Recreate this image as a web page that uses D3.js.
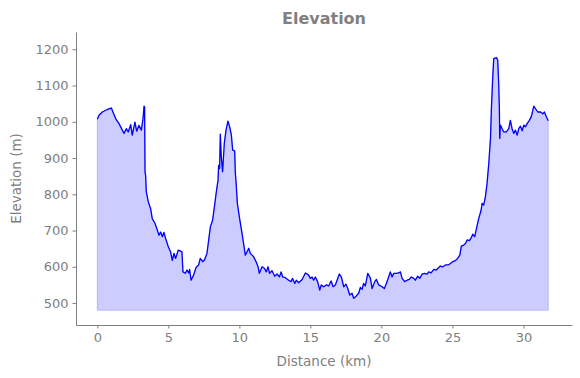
<!DOCTYPE html>
<html lang="en">
<head>
    <meta charset="UTF-8">
    <script src="https://d3js.org/d3.v7.min.js"></script>
    <title>Elevation</title>
    <style>
        body { margin: 0; background: #fff; }
        text { font-family: "DejaVu Sans", sans-serif; fill: #808080; }
    </style>
</head>
<body>
    <div id="chart"></div>

    <script>
      // profile, km / metres
      var distKm = [0,0.12,0.35,0.7,0.99,1.1,1.29,1.53,1.76,1.88,2.04,2.18,2.35,2.46,2.65,2.77,2.93,3.1,3.22,3.29,3.33,3.36,3.4,3.45,3.59,3.75,3.87,4.06,4.23,4.34,4.46,4.58,4.69,4.81,5.0,5.16,5.28,5.4,5.51,5.7,5.87,
        5.96,6.03,6.2,6.31,6.43,6.5,6.6,6.78,6.95,7.13,7.25,7.42,7.56,7.72,7.84,7.96,8.12,8.26,8.38,8.5,8.54,8.61,8.66,8.73,8.82,8.94,9.06,9.2,9.32,9.44,9.53,9.67,9.72,9.77,9.86,10.02,10.19,10.3,10.42,10.54,10.66,10.77,11.0,11.18,11.32,11.41,11.6,11.76,
        11.9,12.02,12.13,12.3,12.49,12.65,12.82,12.94,13.05,13.24,13.47,13.64,13.75,13.9,14.01,14.18,14.42,14.65,14.77,14.88,15.0,15.12,15.23,15.35,15.51,15.66,15.77,15.94,16.13,16.29,16.46,16.6,16.76,16.88,17.04,17.18,17.35,17.51,17.63,17.77,17.93,18.05,18.22,18.4,18.52,18.64,18.75,18.87,19.04,19.23,19.35,19.53,
        19.65,19.81,20.05,20.21,20.35,20.51,20.63,20.75,20.87,21.04,21.22,21.34,21.46,21.64,21.81,21.97,22.11,22.28,22.39,22.56,22.7,22.87,23.05,23.22,23.33,23.5,23.69,23.85,24.04,24.15,24.32,24.51,24.7,24.86,25.02,25.21,25.37,25.52,25.63,25.8,25.92,26.04,26.2,26.34,26.43,26.57,26.67,
        26.85,27.02,27.09,27.2,27.32,27.44,27.56,27.68,27.75,27.84,27.91,28.1,28.19,28.26,28.31,28.33,28.38,28.5,28.61,28.8,28.97,29.08,29.2,29.32,29.44,29.56,29.67,29.79,29.91,30.02,30.14,30.26,30.42,30.56,30.73,30.85,31.01,31.2,31.36,31.48,31.62,31.75];
      var elevM = [1007,1018,1027,1034,1038,1027,1009,995,977,968,981,972,992,963,999,974,990,977,1009,1043,1041,862,853,807,779,761,733,720,701,687,696,683,695,678,655,641,618,637,623,646,643,
        641,586,582,591,583,593,563,577,598,605,623,614,620,637,674,710,729,770,807,839,880,871,966,903,862,940,977,1002,986,963,922,920,858,834,775,733,692,664,632,641,651,637,628,614,600,582,600,596,
        586,600,582,589,574,580,572,586,572,570,563,559,568,554,563,556,565,583,580,577,568,572,563,572,559,536,550,545,550,547,561,545,550,563,580,572,545,552,540,522,527,513,519,527,543,538,554,547,582,568,540,559,
        565,550,545,540,554,572,586,572,582,582,583,586,568,559,563,565,572,568,563,574,568,580,582,580,586,583,593,591,598,602,600,605,605,609,614,617,623,632,657,660,664,674,672,681,690,683,701,
        733,756,775,770,793,830,885,954,1041,1124,1174,1177,1170,1105,1032,954,991,981,972,972,981,1004,981,968,977,963,981,988,975,991,986,995,1004,1015,1043,1036,1027,1027,1022,1027,1013,1003];
      var baseElev = 480;
      var xTicks = [0,5,10,15,20,25,30];
      var yTicks = [500,600,700,800,900,1000,1100,1200];

      var W = 580, H = 378;
      var mLeft = 76, mRight = 572, mTop = 32, mBottom = 325;

      var pts = distKm.map(function(d,i){ return {x:d, y:elevM[i]}; });

      var svg = d3.select("#chart").append("svg")
          .attr("width", W).attr("height", H);

      var x = d3.scaleLinear().domain([-1.5, 33.42]).range([mLeft, mRight]);
      var y = d3.scaleLinear().domain([439.4, 1247.7]).range([mBottom, mTop]);

      var area = d3.area()
          .x(d => x(d.x))
          .y0(y(baseElev))
          .y1(d => y(d.y));

      var line = d3.line()
          .x(d => x(d.x))
          .y(d => y(d.y));

      svg.append("path").datum(pts)
          .attr("d", area)
          .attr("fill", "rgba(0,0,255,0.2)")
          .attr("stroke", "rgba(0,0,255,0.2)")
          .attr("stroke-width", 1);

      svg.append("path").datum(pts)
          .attr("d", line)
          .attr("fill", "none")
          .attr("stroke", "#0000ff")
          .attr("stroke-width", 1.3)
          .attr("stroke-linejoin", "round");

      var xAxis = svg.append("g")
          .attr("transform", "translate(0," + mBottom + ")")
          .call(d3.axisBottom(x).tickValues(xTicks).tickSize(3.5).tickPadding(4).tickSizeOuter(0));
      var yAxis = svg.append("g")
          .attr("transform", "translate(" + mLeft + ",0)")
          .call(d3.axisLeft(y).tickValues(yTicks).tickFormat(d3.format("d")).tickSize(3.5).tickPadding(4).tickSizeOuter(0));

      [xAxis, yAxis].forEach(function(g){
          g.select(".domain").attr("stroke", "#808080").attr("stroke-width", 1);
          g.selectAll(".tick line").attr("stroke", "#808080");
          g.selectAll(".tick text").attr("fill", "#808080")
              .style("font-family", "DejaVu Sans").style("font-size", "13px");
      });

      svg.append("text")
          .attr("x", (mLeft + mRight) / 2).attr("y", 366)
          .attr("text-anchor", "middle")
          .style("font-size", "13.5px")
          .text("Distance (km)");

      svg.append("text")
          .attr("transform", "translate(21," + ((mTop + mBottom) / 2) + ") rotate(-90)")
          .attr("text-anchor", "middle")
          .style("font-size", "13.5px")
          .text("Elevation (m)");

      svg.append("text")
          .attr("x", (mLeft + mRight) / 2).attr("y", 24)
          .attr("text-anchor", "middle")
          .style("font-size", "16px")
          .style("font-weight", "bold")
          .text("Elevation");
    </script>
</body>
</html>
